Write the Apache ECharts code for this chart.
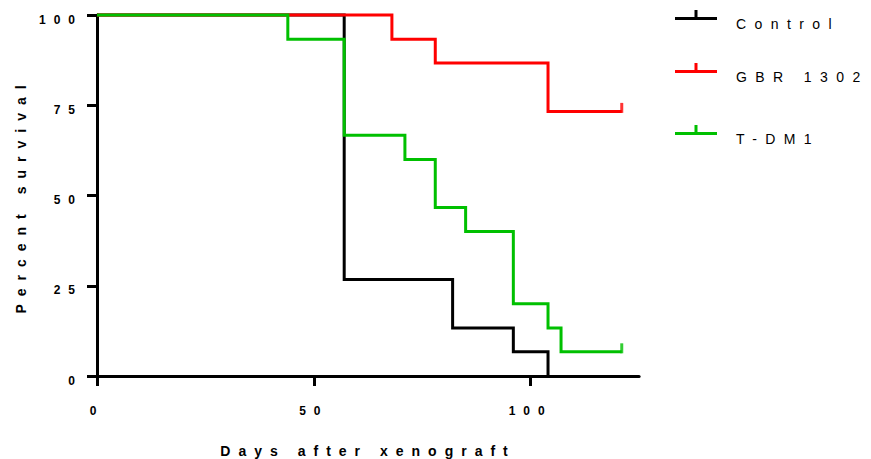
<!DOCTYPE html>
<html>
<head>
<meta charset="utf-8">
<script src="https://cdn.jsdelivr.net/npm/echarts@6/dist/echarts.min.js"></script>
<style>
  html, body { margin: 0; padding: 0; background: #ffffff; }
  #chart { width: 871px; height: 459px; }
  #chart text { letter-spacing: 8px; }
  #chart text:not([style*="bold"]):not([font-weight="bold"]) { letter-spacing: 8.4px; }
</style>
</head>
<body>
<div id="chart"></div>
<script>
// ---- data ----
const seriesNames = ['Control', 'GBR 1302', 'T-DM1'];
const controlDays = [0, 57, 82, 96, 104];
const controlSurv = [100, 26.7, 13.3, 6.7, 0];
const gbrDays = [0, 68, 78, 104, 121];
const gbrSurv = [100, 93.3, 86.7, 73.3, 73.3];
const tdm1Days = [0, 44, 57, 71, 78, 85, 96, 104, 107, 121];
const tdm1Surv = [100, 93.3, 66.7, 60, 46.7, 40, 20, 13.3, 6.7, 6.7];
const gbrCensorDays = [121];
const gbrCensorSurv = [73.3];
const tdm1CensorDays = [121];
const tdm1CensorSurv = [6.7];
const xTicks = [0, 50, 100];
const yTicks = [0, 25, 50, 75, 100];

// ---- styles ----
const colors = ['#000000', '#ff0000', '#00c000'];
const FONT = 'Liberation Sans, Arial, sans-serif';
const zip = (xs, ys) => xs.map((x, i) => [x, ys[i]]);
// line + censor stub; the trailing zero-area subpath only extends the box so the text sits below the line
const legendIcon = 'path://M0,7L42,7L42,10L0,10Z M19.5,0L22.5,0L22.5,7L19.5,7Z M0,27L42,27';
const censorSymbol = 'path://M0,0L3,0L3,10L0,10Z';

function stepSeries(name, data, color, z) {
  return {
    name: name, type: 'line', step: 'end', data: data,
    symbol: 'none', showSymbol: false, clip: false, z: z,
    lineStyle: { color: color, width: 3, join: 'miter', cap: 'butt' },
    itemStyle: { color: color },
    emphasis: { disabled: true }
  };
}
function censorSeries(name, data, color, z) {
  return {
    name: name, type: 'scatter', data: data, clip: false, z: z,
    symbol: censorSymbol, symbolSize: [3, 10], symbolOffset: [0, -3.5],
    itemStyle: { color: color }, emphasis: { disabled: true }
  };
}
function legendAt(name, top) {
  return {
    data: [name], left: 675, top: top, padding: 0, orient: 'vertical',
    icon: legendIcon, itemWidth: 42, itemHeight: 27, selectedMode: false,
    textStyle: { fontFamily: FONT, fontSize: 14, color: '#000', padding: [0, 0, 0, 14] }
  };
}

const chart = echarts.init(document.getElementById('chart'), null, { renderer: 'svg' });
chart.setOption({
  animation: false,
  backgroundColor: '#ffffff',
  color: colors,
  grid: { left: 97, top: 15, width: 542.1, height: 361, containLabel: false, outerBoundsMode: 'none' },
  legend: [
    legendAt(seriesNames[0], 10),
    legendAt(seriesNames[1], 63),
    legendAt(seriesNames[2], 125)
  ],
  xAxis: {
    type: 'value', min: 0, max: 125, interval: 50,
    name: 'Days after xenograft', nameLocation: 'middle', nameGap: 68,
    nameTextStyle: { fontFamily: FONT, fontSize: 14, fontWeight: 'bold', color: '#000' },
    splitLine: { show: false },
    axisLine: { show: true, onZero: false, lineStyle: { color: '#000', width: 3 } },
    axisTick: { show: true, inside: false, length: 10, lineStyle: { color: '#000', width: 3 }, customValues: xTicks },
    axisLabel: { show: true, margin: 29, fontFamily: FONT, fontSize: 12, fontWeight: 'bold', color: '#000', customValues: xTicks }
  },
  yAxis: {
    type: 'value', min: 0, max: 100, interval: 25,
    name: 'Percent survival', nameLocation: 'middle', nameGap: 69,
    nameTextStyle: { fontFamily: FONT, fontSize: 14, fontWeight: 'bold', color: '#000' },
    splitLine: { show: false },
    axisLine: { show: true, onZero: false, lineStyle: { color: '#000', width: 3 } },
    axisTick: { show: true, inside: false, length: 10, lineStyle: { color: '#000', width: 3 }, customValues: yTicks },
    axisLabel: { show: true, margin: 14, verticalAlign: 'top', lineHeight: 9, fontFamily: FONT, fontSize: 12, fontWeight: 'bold', color: '#000', customValues: yTicks }
  },
  series: [
    stepSeries(seriesNames[0], zip(controlDays, controlSurv), colors[0], 2),
    stepSeries(seriesNames[1], zip(gbrDays, gbrSurv), colors[1], 3),
    stepSeries(seriesNames[2], zip(tdm1Days, tdm1Surv), colors[2], 4),
    censorSeries('GBR 1302 censored', zip(gbrCensorDays, gbrCensorSurv), colors[1], 3),
    censorSeries('T-DM1 censored', zip(tdm1CensorDays, tdm1CensorSurv), colors[2], 4)
  ]
});
</script>
</body>
</html>
